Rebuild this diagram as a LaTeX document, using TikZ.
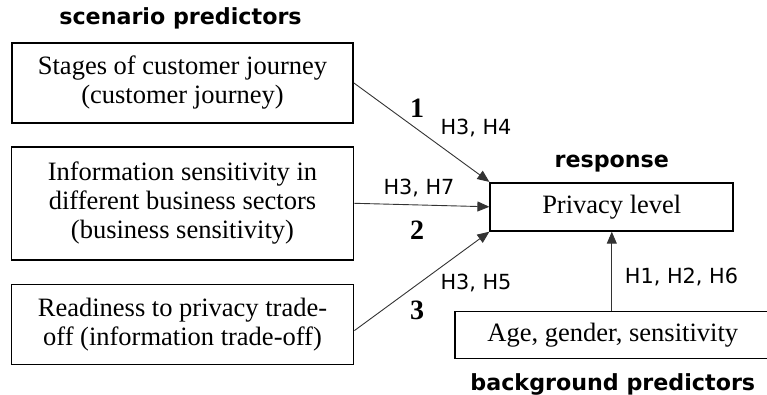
\documentclass[tikz,border=0pt]{standalone}
\usepackage{fontspec}
\setmainfont{Liberation Serif}
\newfontfamily\labelfont{DejaVu Sans}
\usepackage{tikz}
\usetikzlibrary{
    arrows.meta,
    positioning
}
\tikzstyle{arrow} = [
    -{Triangle[length=6pt,width=5pt]},
    line width=0.45pt,
    draw=black!80
]

\begin{document}
\begin{tikzpicture}[
    node distance=11pt,
    predictor/.style={rectangle, draw, line width=0.9pt, minimum width=171pt, minimum height=40pt, inner sep=2pt, align=center, font=\fontsize{13.25}{14.5}\selectfont},
    heading/.style={font=\labelfont\bfseries\fontsize{11.1}{13}\selectfont, inner sep=0pt},
    hyp/.style={font=\labelfont\fontsize{10.4}{12}\selectfont, inner sep=0pt},
    pathno/.style={font=\bfseries\fontsize{14}{16}\selectfont, inner sep=0pt}
]
    \useasboundingbox (0,0) rectangle (383.5pt,-197.5pt);

    % Scenario predictors
    \node[predictor, minimum width=170.5pt] (journey) at (91.25pt,-41.5pt) {Stages of customer journey\\(customer journey)};
    \node[heading, above=6.5pt of journey, xshift=-1pt] (scenario) {scenario predictors};

    \node[predictor, minimum height=56.5pt, below=of journey] (sector) {Information sensitivity in\\different business sectors\\(business sensitivity)};

    \node[predictor, below=11.5pt of sector] (tradeoff) {Readiness to privacy trade-\\off (information trade-off)};

    % Response
    \node[predictor, minimum width=121.5pt, minimum height=24pt, right=67.5pt of sector, yshift=-1.75pt] (privacy) {Privacy level};
    \node[heading, above=4.6pt of privacy] (response) {response};

    % Background predictors
    \node[predictor, minimum width=157.5pt, minimum height=23.5pt, below=39.5pt of privacy, xshift=0.5pt] (background) {Age, gender, sensitivity};
    \node[heading, below=7pt of background] (bglabel) {background predictors};

    % Path labels
    \node[pathno] (n1) at (208.5pt,-54pt) {1};
    \node[hyp] (h1) at (238pt,-64pt) {H3, H4};
    \node[hyp] (h2) at (209.5pt,-94pt) {H3, H7};
    \node[pathno] (n2) at (208.5pt,-115pt) {2};
    \node[hyp] (h3) at (238pt,-141.5pt) {H3, H5};
    \node[pathno] (n3) at (208.5pt,-155pt) {3};
    \node[hyp] (h4) at (340.75pt,-138.5pt) {H1, H2, H6};

    % Arrows
    \draw[arrow] (journey.east) -- (privacy.north west);
    \draw[arrow] (sector.east) -- (privacy.west);
    \draw[arrow] ([yshift=-3pt]tradeoff.east) -- (privacy.south west);
    \draw[arrow] (background.north -| privacy.south) -- (privacy.south);

\end{tikzpicture}
\end{document}
